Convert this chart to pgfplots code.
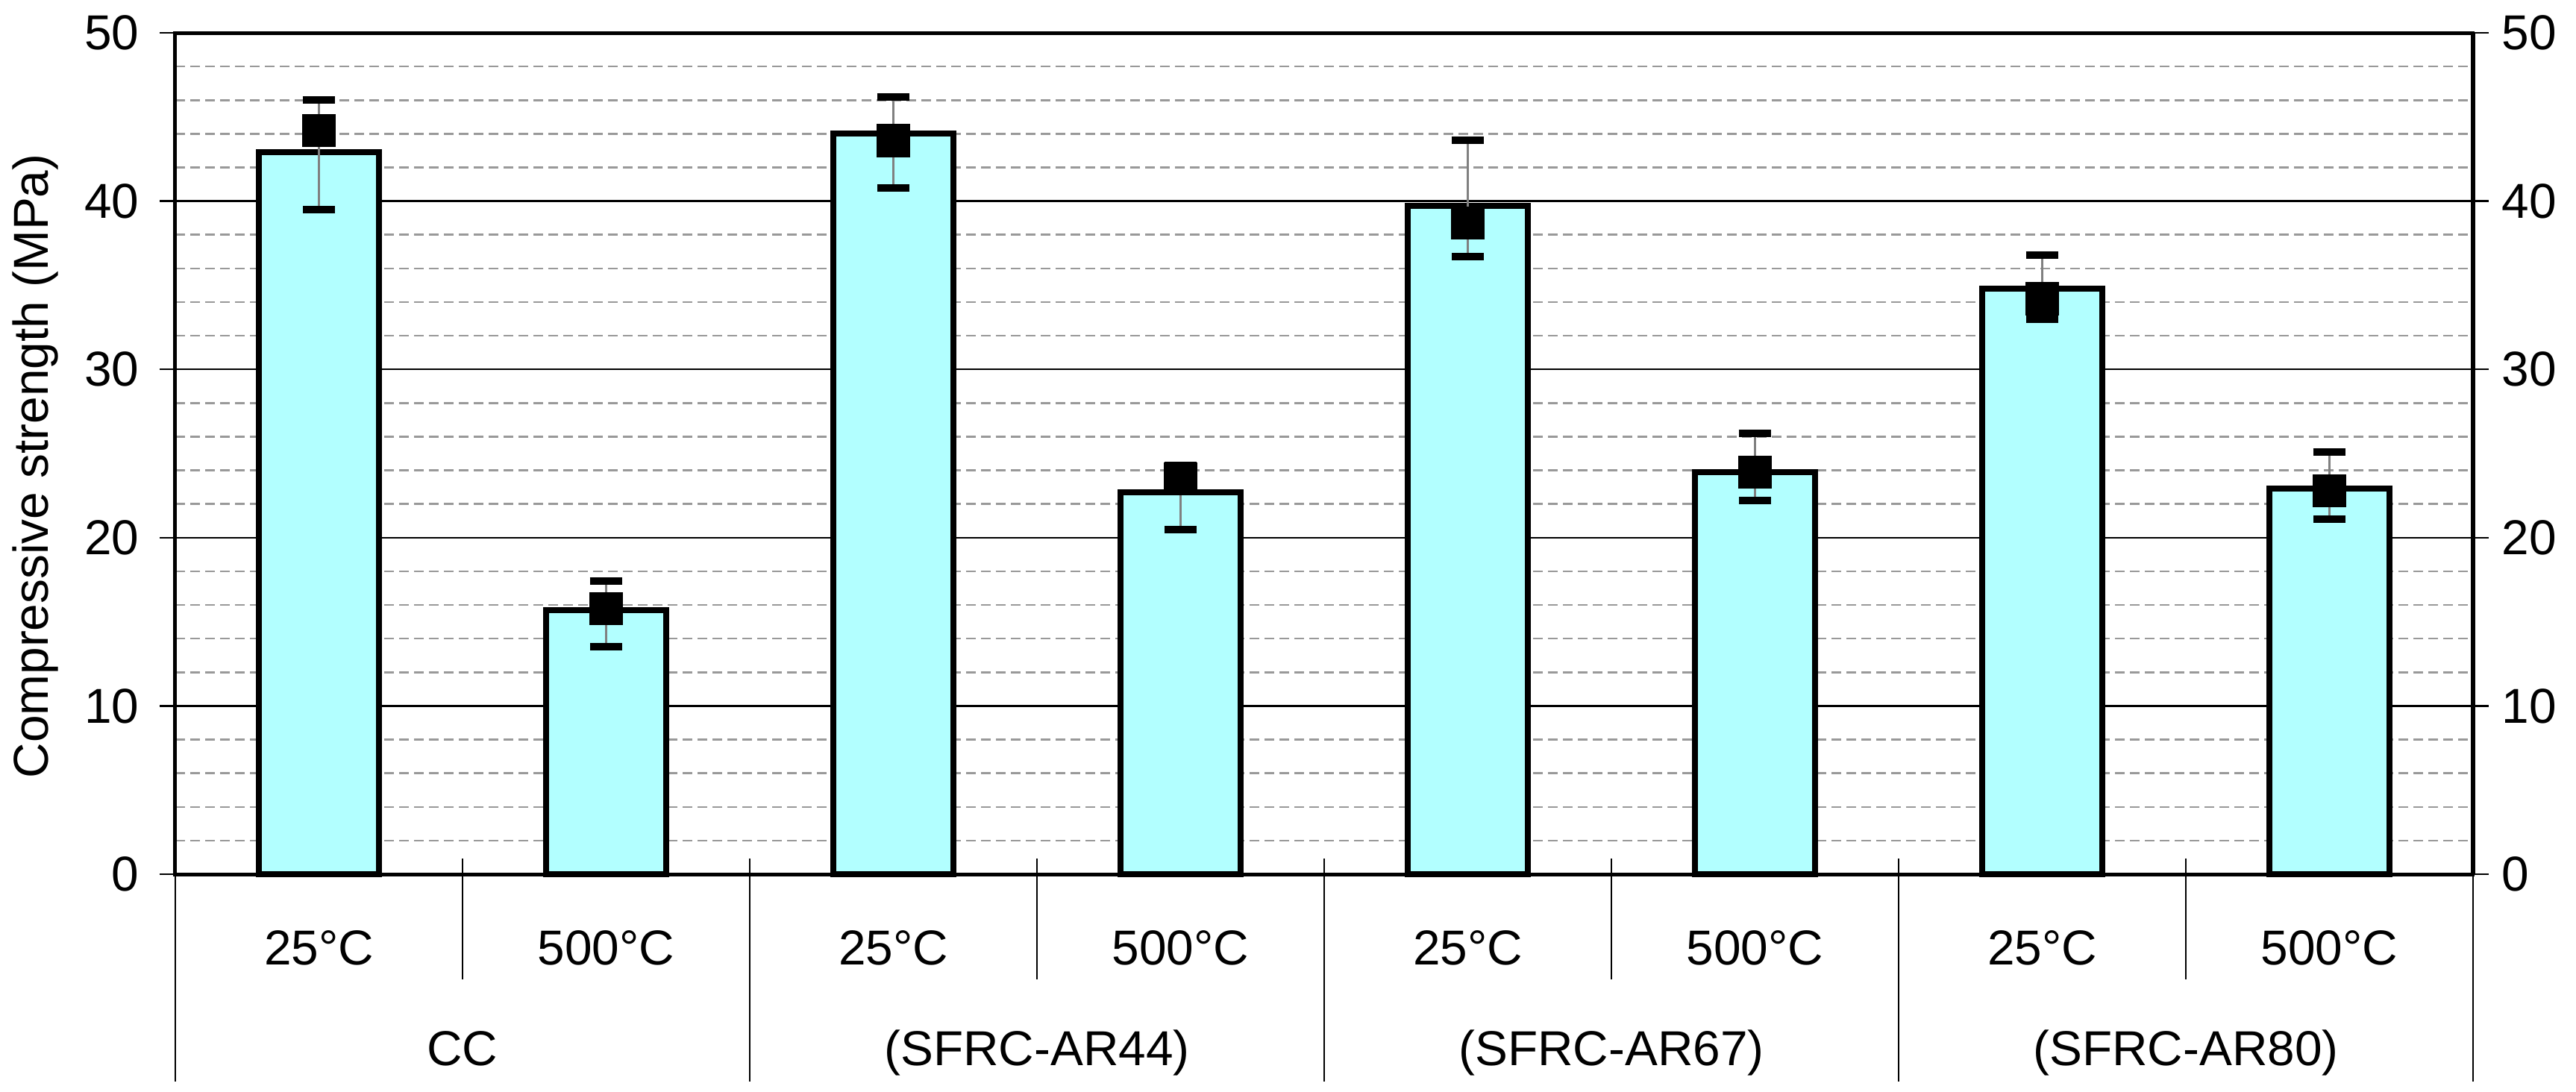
\documentclass[border=0pt]{standalone}
\usepackage{fontspec}
\setmainfont{Liberation Sans}
\usepackage{pgfplots}
\usepackage{pgfplotstable}
\pgfplotsset{compat=1.18}
\definecolor{barcyan}{RGB}{178,255,255}

\pgfplotstableread{
x bar m ep em
0 42.9 44.2 1.8 4.7
1 15.7 15.8 1.6 2.3
2 44.0 43.6 2.6 2.8
3 22.7 23.5 0.8 3.0
4 39.7 38.7 4.9 2.0
5 23.9 23.9 2.3 1.7
6 34.8 34.2 2.6 1.2
7 22.9 22.8 2.3 1.7
}\datatable

\newcommand{\lblfont}{\fontsize{13.2}{15}\selectfont}

\begin{document}
\begin{tikzpicture}
\useasboundingbox (-47bp,-58.4bp) rectangle (643.6bp,234.4bp);
\begin{axis}[
  at={(0,0)}, anchor=south west,
  width=616bp, height=225.6bp, scale only axis,
  xmin=-0.5, xmax=7.5, ymin=0, ymax=50,
  clip=false,
  xtick={0,...,7},
  xticklabels={25°C,500°C,25°C,500°C,25°C,500°C,25°C,500°C},
  x tick style={draw=none},
  xticklabel style={anchor=base, yshift=-20bp},
  ytick={0,10,...,50},
  minor ytick={2,4,...,48},
  ymajorgrids, yminorgrids,
  major grid style={black, line width=0.5bp},
  minor grid style={black!40, line width=0.5bp, dash pattern=on 2.5bp off 1.5bp},
  ytick pos=left,
  tick align=outside,
  major tick length=4.2bp, minor tick length=0pt,
  y tick style={black, line width=0.5bp},
  tick label style={font=\lblfont},
  yticklabel style={xshift=-2bp},
  /pgf/number format/assume math mode=true,
  x axis line style={black!50, line width=1.1bp},
  y axis line style={black, line width=1bp},
  ylabel={Compressive strength (MPa)},
  ylabel style={at={(axis description cs:-0.061,0.485)}, anchor=center, font=\lblfont},
]
\addplot[ybar, bar width=0.42, fill=barcyan, draw=black, line width=1.6bp]
  table[x=x, y=bar] {\datatable};
\addplot[only marks, mark=square*, mark size=4.35bp,
  mark options={fill=black, draw=black, line width=0.1pt},
  error bars/.cd, y dir=both, y explicit,
  error mark=|, error mark options={black, line width=2bp, mark size=4.35bp},
  error bar style={black!50, line width=0.6bp}]
  table[x=x, y=m, y error plus=ep, y error minus=em] {\datatable};
\pgfplotsinvokeforeach{0.5,2.5,4.5,6.5}{
  \draw[black, line width=0.4bp] ([yshift=4.2bp]axis cs:#1,0) -- ([yshift=-28.2bp]axis cs:#1,0);
}
\pgfplotsinvokeforeach{-0.5,1.5,3.5,5.5,7.5}{
  \draw[black, line width=0.4bp] ([yshift=4.2bp]axis cs:#1,0) -- ([yshift=-55.6bp]axis cs:#1,0);
}
\node[font=\lblfont, anchor=base] at ([yshift=-51.3bp]axis cs:0.5,0) {CC};
\node[font=\lblfont, anchor=base] at ([yshift=-51.3bp]axis cs:2.5,0) {(SFRC-AR44)};
\node[font=\lblfont, anchor=base] at ([yshift=-51.3bp]axis cs:4.5,0) {(SFRC-AR67)};
\node[font=\lblfont, anchor=base] at ([yshift=-51.3bp]axis cs:6.5,0) {(SFRC-AR80)};
\end{axis}
\begin{axis}[
  at={(0,0)}, anchor=south west,
  width=616bp, height=225.6bp, scale only axis,
  xmin=-0.5, xmax=7.5, ymin=0, ymax=50,
  hide x axis,
  axis y line*=right,
  ytick={0,10,...,50},
  tick align=outside,
  major tick length=4.2bp,
  y tick style={black, line width=0.5bp},
  tick label style={font=\lblfont},
  /pgf/number format/assume math mode=true,
  y axis line style={black, line width=1bp},
]
\end{axis}
\end{tikzpicture}
\end{document}
